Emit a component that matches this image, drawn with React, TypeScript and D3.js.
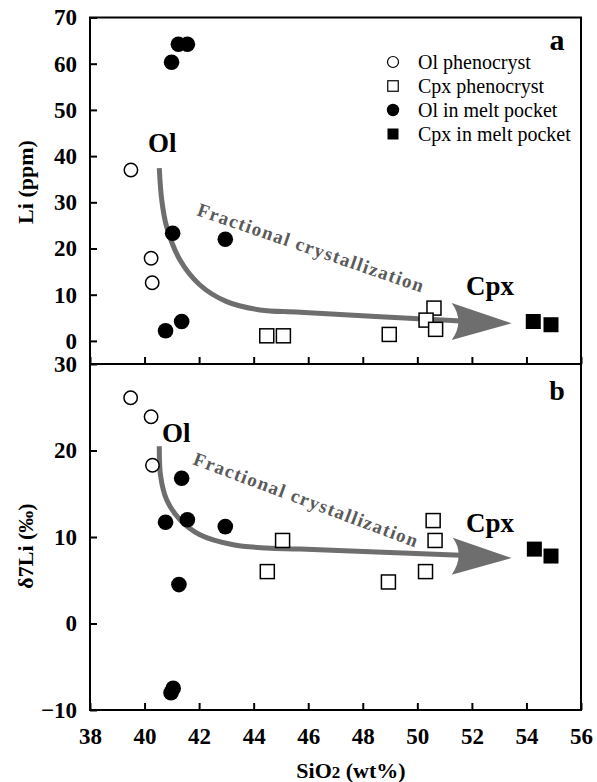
import { useEffect, useRef } from "react";
import * as d3 from "d3";

// SiO2 (wt%) vs Li (ppm), panel a
const olPhenoLi = [[39.5, 37.0], [40.24, 17.9], [40.28, 12.6]];
const cpxPhenoLi = [[44.48, 1.1], [45.09, 1.1], [48.97, 1.4], [50.61, 7.1], [50.32, 4.5], [50.67, 2.5]];
const olMeltLi = [[40.99, 60.3], [41.24, 64.2], [41.57, 64.2], [41.03, 23.3], [42.96, 22.0], [40.77, 2.2], [41.36, 4.2]];
const cpxMeltLi = [[54.25, 4.2], [54.9, 3.5]];

// SiO2 (wt%) vs d7Li (permil), panel b
const olPhenoD7 = [[39.49, 26.1], [40.24, 23.9], [40.29, 18.3]];
const cpxPhenoD7 = [[45.06, 9.6], [44.5, 6.0], [48.94, 4.8], [50.3, 6.0], [50.58, 11.9], [50.65, 9.6]];
const olMeltD7 = [[41.36, 16.8], [40.77, 11.7], [41.57, 12.0], [42.96, 11.2], [41.26, 4.5], [41.05, -7.5], [40.97, -8.0]];
const cpxMeltD7 = [[54.29, 8.6], [54.9, 7.8]];

const xTicks = [38, 40, 42, 44, 46, 48, 50, 52, 54, 56];
const liTicks = [0, 10, 20, 30, 40, 50, 60, 70];
const d7Ticks = [-10, 0, 10, 20, 30];

// trend arrows (data units)
const trendLi = [[40.54, 37.4], [40.63, 30.5], [40.81, 24.7], [41.3, 17.5], [42.03, 12.1], [43.01, 8.5], [44.23, 6.7], [45.7, 6.2], [51.6, 4.3]];
const headLi = { tip: [53.46, 3.8], top: [51.26, 8.2], bottom: [51.26, 0.2], notch: [51.75, 4.2] };
const trendD7 = [[40.54, 20.5], [40.59, 17.0], [40.81, 14.3], [41.3, 12.0], [42.03, 10.27], [43.25, 9.11], [44.48, 8.73], [45.7, 8.61], [51.6, 7.9]];
const headD7 = { tip: [53.46, 7.57], top: [51.3, 9.9], bottom: [51.26, 5.64], notch: [51.75, 7.95] };

const legendItems = ["Ol phenocryst", "Cpx phenocryst", "Ol in melt pocket", "Cpx in melt pocket"];

const FONT = '"Liberation Serif", serif';
const GRAY = "#6e6e6e";

function App() {
  const svgRef = useRef<SVGSVGElement>(null);

  useEffect(() => {
    const svg = d3.select(svgRef.current);
    svg.selectAll("*").remove();

    const left = 90;
    const right = 581;
    const x = d3.scaleLinear().domain([38, 56]).range([left, right]);
    const yA = d3.scaleLinear().domain([-5, 70]).range([364, 17.5]);
    const yB = d3.scaleLinear().domain([-10, 30]).range([710, 364]);

    const g = svg.append("g").style("font-family", FONT);

    function panel(y: d3.ScaleLinear<number, number>, yTicks: number[], showX: boolean) {
      const [y0, y1] = y.range();
      // frame
      g.append("rect")
        .attr("x", left)
        .attr("y", y1)
        .attr("width", right - left)
        .attr("height", y0 - y1)
        .attr("fill", "none")
        .attr("stroke", "#000")
        .attr("stroke-width", 2);

      const ya = g
        .append("g")
        .attr("transform", "translate(" + left + ",0)")
        .call(d3.axisLeft(y).tickValues(yTicks).tickSizeInner(-7).tickSizeOuter(0).tickPadding(13));
      ya.attr("font-family", null).attr("font-size", null);
      ya.select(".domain").remove();
      ya.selectAll("line").attr("stroke-width", 2);
      ya.selectAll("text")
        .style("font-family", FONT)
        .style("font-size", "23px")
        .style("font-weight", "bold")
        .attr("fill", "#000");

      const xa = g
        .append("g")
        .attr("transform", "translate(0," + y0 + ")")
        .call(
          d3
            .axisBottom(x)
            .tickValues(xTicks)
            .tickSizeInner(-7)
            .tickSizeOuter(0)
            .tickPadding(18)
            .tickFormat((d) => (showX ? String(d) : ""))
        );
      xa.attr("font-family", null).attr("font-size", null);
      xa.select(".domain").remove();
      xa.selectAll("line").attr("stroke-width", 2);
      xa.selectAll("text")
        .style("font-family", FONT)
        .style("font-size", "23px")
        .style("font-weight", "bold")
        .attr("fill", "#000");
    }

    panel(yA, liTicks, false);
    panel(yB, d7Ticks, true);

    // trend arrows
    function trend(y: d3.ScaleLinear<number, number>, pts: number[][], head: any) {
      const line = d3
        .line<number[]>()
        .x((d) => x(d[0]))
        .y((d) => y(d[1]))
        .curve(d3.curveCatmullRom);
      g.append("path")
        .attr("d", line(pts))
        .attr("fill", "none")
        .attr("stroke", GRAY)
        .attr("stroke-width", 5);
      const p = (d: number[]) => x(d[0]) + "," + y(d[1]);
      g.append("path")
        .attr(
          "d",
          "M" + p(head.tip) + " L" + p(head.top) + " Q" + p(head.notch) + " " + p(head.bottom) + " Z"
        )
        .attr("fill", GRAY);
    }
    trend(yA, trendLi, headLi);
    trend(yB, trendD7, headD7);

    // annotations
    function label(txt: string, px: number, py: number, size: number, anchor = "start") {
      g.append("text")
        .attr("x", px)
        .attr("y", py)
        .style("font-size", size + "px")
        .style("font-weight", "bold")
        .attr("text-anchor", anchor)
        .text(txt);
    }
    label("Ol", 148, 152, 27);
    label("Ol", 162, 442, 27);
    label("Cpx", 466, 295, 27);
    label("Cpx", 466, 532, 27);
    label("a", 557, 50, 30, "middle");
    label("b", 557, 400, 28, "middle");

    function fracText(px: number, py: number, angle: number) {
      g.append("text")
        .attr("transform", "translate(" + px + "," + py + ") rotate(" + angle + ")")
        .style("font-size", "19px")
        .style("font-weight", "bold")
        .attr("fill", "#5a5a5a")
        .attr("textLength", 238)
        .attr("lengthAdjust", "spacing")
        .text("Fractional crystallization");
    }
    fracText(196, 215, 19);
    fracText(192, 464, 20.5);

    // markers
    function points(y: d3.ScaleLinear<number, number>, data: number[][], shape: string, filled: boolean) {
      const sel = g.append("g");
      if (shape === "circle") {
        sel
          .selectAll("circle")
          .data(data)
          .join("circle")
          .attr("cx", (d) => x(d[0]))
          .attr("cy", (d) => y(d[1]))
          .attr("r", filled ? 7.8 : 6.7)
          .attr("fill", filled ? "#000" : "#fff")
          .attr("stroke", "#000")
          .attr("stroke-width", filled ? 0 : 1.5);
      } else {
        const s = filled ? 15 : 14;
        sel
          .selectAll("rect")
          .data(data)
          .join("rect")
          .attr("x", (d) => x(d[0]) - s / 2)
          .attr("y", (d) => y(d[1]) - s / 2)
          .attr("width", s)
          .attr("height", s)
          .attr("fill", filled ? "#000" : "#fff")
          .attr("stroke", "#000")
          .attr("stroke-width", filled ? 0 : 1.5);
      }
    }
    points(yA, olPhenoLi, "circle", false);
    points(yA, olMeltLi, "circle", true);
    points(yA, cpxPhenoLi, "square", false);
    points(yA, cpxMeltLi, "square", true);
    points(yB, olPhenoD7, "circle", false);
    points(yB, olMeltD7, "circle", true);
    points(yB, cpxPhenoD7, "square", false);
    points(yB, cpxMeltD7, "square", true);

    // legend
    const lg = g.append("g");
    legendItems.forEach((name, i) => {
      const cy = 62 + i * 24;
      const filled = i >= 2;
      if (i % 2 === 0) {
        lg.append("circle")
          .attr("cx", 393)
          .attr("cy", cy)
          .attr("r", filled ? 6.2 : 5.5)
          .attr("fill", filled ? "#000" : "#fff")
          .attr("stroke", "#000")
          .attr("stroke-width", filled ? 0 : 1.2);
      } else {
        const s = filled ? 11 : 10.5;
        lg.append("rect")
          .attr("x", 393 - s / 2)
          .attr("y", cy - s / 2)
          .attr("width", s)
          .attr("height", s)
          .attr("fill", filled ? "#000" : "#fff")
          .attr("stroke", "#000")
          .attr("stroke-width", filled ? 0 : 1.2);
      }
      lg.append("text")
        .attr("x", 418)
        .attr("y", cy)
        .attr("dy", "0.33em")
        .style("font-size", "20px")
        .text(name);
    });

    // axis titles
    g.append("text")
      .attr("transform", "translate(33,182) rotate(-90)")
      .attr("text-anchor", "middle")
      .style("font-size", "22px")
      .style("font-weight", "bold")
      .text("Li (ppm)");
    g.append("text")
      .attr("transform", "translate(33,546) rotate(-90)")
      .attr("text-anchor", "middle")
      .style("font-size", "22px")
      .style("font-weight", "bold")
      .text("δ7Li (‰)");
    const xt = g
      .append("text")
      .attr("x", 351)
      .attr("y", 778)
      .attr("text-anchor", "middle")
      .style("font-size", "22px")
      .style("font-weight", "bold");
    xt.append("tspan").text("SiO");
    xt.append("tspan").style("font-size", "17px").text("2");
    xt.append("tspan").text(" (wt%)");
  }, []);

  return (
    <svg
      ref={svgRef}
      width={597}
      height={782}
      style={{ position: "absolute", left: 0, top: 0, background: "#fff" }}
    ></svg>
  );
}

export default App;
